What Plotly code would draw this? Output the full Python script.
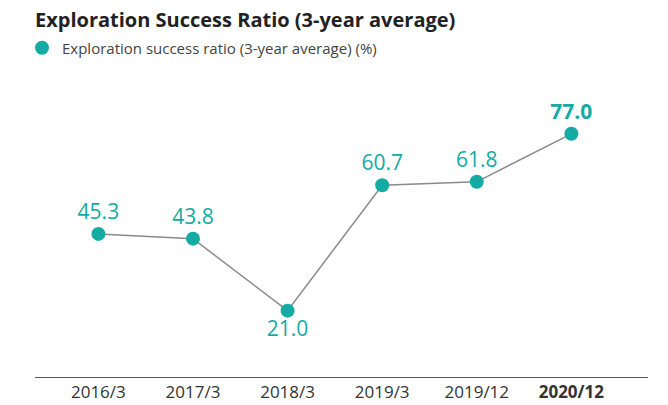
import plotly.graph_objects as go

periods = ["2016/3", "2017/3", "2018/3", "2019/3", "2019/12", "2020/12"]
ratio = [45.3, 43.8, 21.0, 60.7, 61.8, 77.0]
tick_text = ["2016/3", "2017/3", "2018/3", "2019/3", "2019/12", "<b>2020/12</b>"]

teal = "#14ABA4"
labels = [f"{v:.1f}" for v in ratio]
labels[-1] = f"<b>{labels[-1]}</b>"
positions = ["top center" if i != 2 else "bottom center" for i in range(len(ratio))]
xs = list(range(len(periods)))

fig = go.Figure()
# connecting line (kept out of the legend so the legend shows only the dot)
fig.add_trace(go.Scatter(x=xs, y=ratio, mode="lines",
                         line=dict(color="#8a8a8a", width=1.5),
                         showlegend=False, hoverinfo="skip"))
fig.add_trace(go.Scatter(
    x=xs, y=ratio,
    mode="markers+text",
    name="Exploration success ratio (3-year average) (%)",
    marker=dict(color=teal, size=14),
    text=labels, textposition=positions,
    textfont=dict(color=teal, size=21),
))

fig.update_layout(
    width=668, height=405,
    margin=dict(l=35, r=20, t=70, b=28),
    paper_bgcolor="white", plot_bgcolor="white",
    font=dict(family="Open Sans, sans-serif", color="#333"),
    title=dict(text="<b>Exploration Success Ratio (3-year average)</b>",
               x=0, xref="paper", xanchor="left",
               y=1 - 20 / 405, yref="container", yanchor="middle",
               font=dict(size=20, color="#222")),
    legend=dict(orientation="h", xref="container", yref="container",
                x=22 / 668, xanchor="left", y=1 - 48 / 405, yanchor="middle",
                font=dict(size=15, color="#444"), itemwidth=30),
    xaxis=dict(range=[-0.67, 5.81], tickvals=xs, automargin=False,
               ticktext=tick_text, showgrid=False, zeroline=False,
               showline=True, linecolor="#555", linewidth=1,
               tickfont=dict(size=17, color="#333")),
    yaxis=dict(range=[0, 97.2], visible=False, showgrid=False,
               automargin=False),
)

fig.write_html("out.html", config={"displayModeBar": False},
               post_script="document.body.style.margin='0';")
